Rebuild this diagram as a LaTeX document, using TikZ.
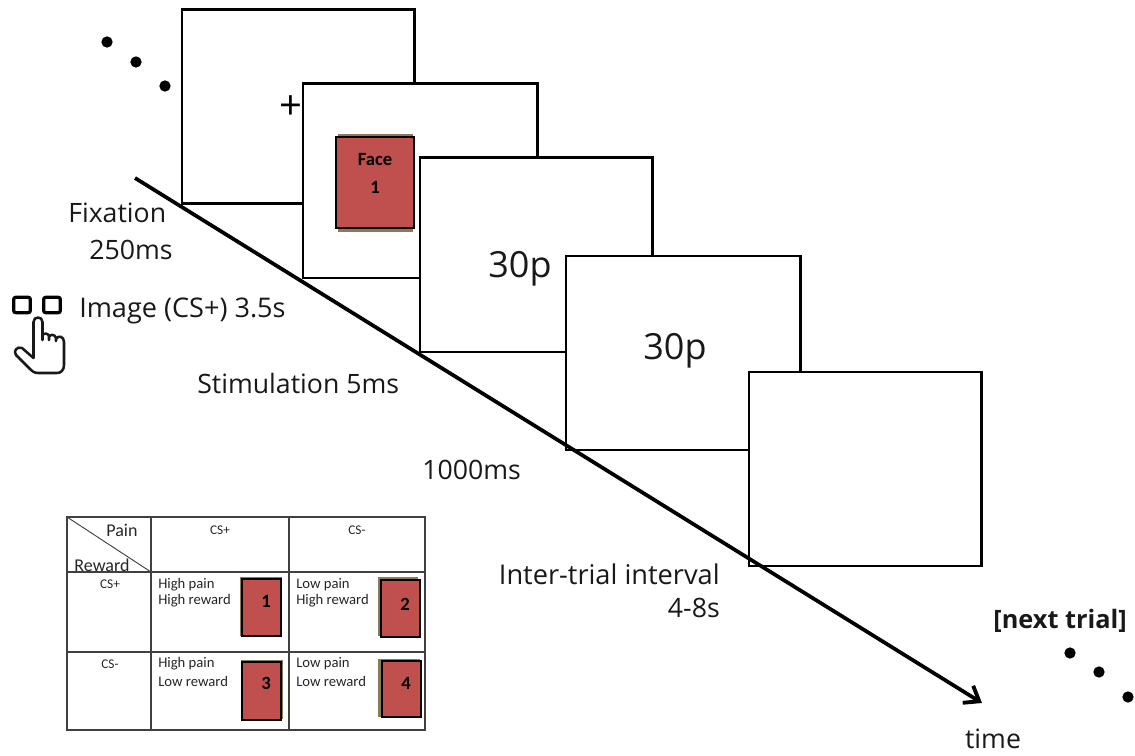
\documentclass[tikz,border=0pt]{standalone}
\usepackage{fontspec}
\setmainfont{Open Sans}
\newfontfamily\tablefont{Carlito}
\usetikzlibrary{arrows.meta}
\tikzset{
  x=0.75pt,y=-0.75pt,
  stim/.style={draw=black,fill=white,line width=1.8pt,anchor=north west,inner sep=0pt,minimum width=174.5pt,minimum height=145.5pt},
  lab/.style={font=\fontsize{20}{22}\selectfont,inner sep=0pt,text=black!90},
  big/.style={font=\fontsize{27}{30}\selectfont,inner sep=0pt,text=black!90},
  tiny/.style={font=\tablefont\fontsize{11}{13}\selectfont,inner sep=0pt,text=black!85,anchor=west},
  hdr/.style={font=\tablefont\fontsize{10}{12}\selectfont,inner sep=0pt,text=black!85},
  dotn/.style={circle,fill=black,inner sep=0pt,minimum size=8.5pt},
  redbox/.style={draw=black,fill=facered,line width=1.4pt,inner sep=0pt,anchor=north west},
  shade/.style={fill=shadowtan,draw=none,inner sep=0pt,anchor=north west},
  tabline/.style={draw=black!75,line width=0.9pt},
  boldnum/.style={font=\tablefont\bfseries\fontsize{14}{16}\selectfont,inner sep=0pt},
  btn/.style={draw=black,line width=2.4pt,rounded corners=1.5pt,inner sep=0pt,minimum width=12.5pt,minimum height=11.5pt}
}
\definecolor{facered}{HTML}{C0504D}
\definecolor{shadowtan}{HTML}{8C7A55}
\begin{document}
\begin{tikzpicture}
\useasboundingbox (0,0) rectangle (1135,756);
% stimulus frames
\node[stim] (s1) at (180.5,8.5) {};
\node[font=\fontsize{30}{32}\selectfont,inner sep=0pt] (plus) at (291,108) {+};
\node[stim,minimum width=176pt] (s2) at (301.5,82.5) {};
\node[shade,minimum width=56pt,minimum height=73pt] (faceshade) at (338,134) {};
\node[redbox,minimum width=58.5pt,minimum height=68.5pt] (face) at (335,136) {};
\node[boldnum] (facet) at (375,160) {Face};
\node[boldnum] (facen) at (375,187) {1};
\node[stim] (s3) at (418.5,156.5) {};
\node[big] (t30a) at (520,269) {30p};
\node[stim,minimum width=176pt] (s4) at (564.5,254.5) {};
\node[big] (t30b) at (675,351) {30p};
\node[stim] (s5) at (747.5,370.5) {};
% time axis
\coordinate (axisA) at (135,178);
\coordinate (axisB) at (982,703);
\draw[line width=2.8pt,-{Straight Barb[length=10pt,width=15pt,line width=2.9pt]}] (axisA) -- (axisB);
% labels
\node[lab,anchor=west] (fix) at (68,213) {Fixation};
\node[lab,anchor=west] (fixms) at (89,250) {250ms};
\node[lab,anchor=west,font=\fontsize{20.3}{22}\selectfont] (img) at (79,310.5) {Image (CS+) 3.5s};
\node[lab,anchor=west] (stimu) at (197,383.5) {Stimulation 5ms};
\node[lab,anchor=west] (thou) at (422,470) {1000ms};
\node[lab,anchor=east,font=\fontsize{20.4}{22}\selectfont] (iti) at (720,574) {Inter-trial interval};
\node[lab,anchor=east] (itib) at (720,608) {4-8s};
\node[lab,anchor=east,font=\fontsize{19}{21}\selectfont\bfseries] (next) at (1127,621) {[next trial]};
\node[lab] (time) at (993,739) {time};
% dots
\node[dotn] (d1) at (107,42) {};
\node[dotn] (d2) at (136,62) {};
\node[dotn] (d3) at (165,86) {};
\node[dotn] (d4) at (1070,653) {};
\node[dotn] (d5) at (1099,672) {};
\node[dotn] (d6) at (1128,697) {};
% response buttons and hand
\node[btn] (b1) at (22,305) {};
\node[btn] (b2) at (52,305) {};
\draw[line width=1.9pt,line join=round,line cap=round,black!90]
  (33.5,322) .. controls (33.5,316) and (42.5,316) .. (42.5,322)
  -- (42.5,340) -- (42.5,335)
  .. controls (44,333) and (48,333) .. (49,336) -- (49,340) -- (49,337)
  .. controls (50,334) and (55,334) .. (56,338) -- (56,341) -- (56,339)
  .. controls (58,335) and (64,336) .. (64,342)
  -- (64,365) .. controls (64,370) and (61,373) .. (57,373)
  -- (38,373) .. controls (34,373) and (32,371) .. (29,368)
  -- (16,355) .. controls (13,351) and (17,346) .. (22,348)
  -- (33.5,358) -- cycle;
% table
\coordinate (tl) at (67,517);
\coordinate (br) at (425,730);
\draw[tabline] (tl) rectangle (br);
\draw[tabline] (151,517) -- (151,730);
\draw[tabline] (289,517) -- (289,730);
\draw[tabline] (67,572) -- (425,572);
\draw[tabline] (67,652) -- (425,652);
\draw[tabline,line width=0.7pt] (tl) -- (151,572);
\node[font=\tablefont\fontsize{13.5}{15}\selectfont,inner sep=0pt,text=black!85] (pain) at (122,530) {Pain};
\node[font=\tablefont\fontsize{13.5}{15}\selectfont,inner sep=0pt,text=black!85] (rew) at (102,565) {Reward};
\node[hdr] (h1) at (220,530) {CS+};
\node[hdr] (h2) at (357,530) {CS-};
\node[hdr] (r1) at (110,584) {CS+};
\node[hdr] (r2) at (110,664) {CS-};
\node[tiny] (c1a) at (158,585) {High pain};
\node[tiny] (c1b) at (158,601) {High reward};
\node[tiny] (c2a) at (296,585) {Low pain};
\node[tiny] (c2b) at (296,601) {High reward};
\node[tiny] (c3a) at (158,664) {High pain};
\node[tiny] (c3b) at (158,681) {Low reward};
\node[tiny] (c4a) at (296,664) {Low pain};
\node[tiny] (c4b) at (296,681) {Low reward};
\node[shade,minimum width=31pt,minimum height=44pt] (sh1) at (240,577) {};
\node[shade,minimum width=30pt,minimum height=44pt] (sh2) at (378,577) {};
\node[shade,minimum width=31pt,minimum height=44pt] (sh3) at (241,660) {};
\node[shade,minimum width=31pt,minimum height=43pt] (sh4) at (378,659) {};
\node[redbox,minimum width=29pt,minimum height=43pt] (r1b) at (241,578) {};
\node[redbox,minimum width=29pt,minimum height=43pt] (r2b) at (380,579) {};
\node[redbox,minimum width=29pt,minimum height=43.5pt] (r3b) at (241,661) {};
\node[redbox,minimum width=29pt,minimum height=42pt] (r4b) at (381,660) {};
\foreach \n/\x/\y in {1/266/601,2/405/604,3/266/683,4/406/683}
  \node[boldnum] (num\n) at (\x,\y) {\n};
\end{tikzpicture}
\end{document}
